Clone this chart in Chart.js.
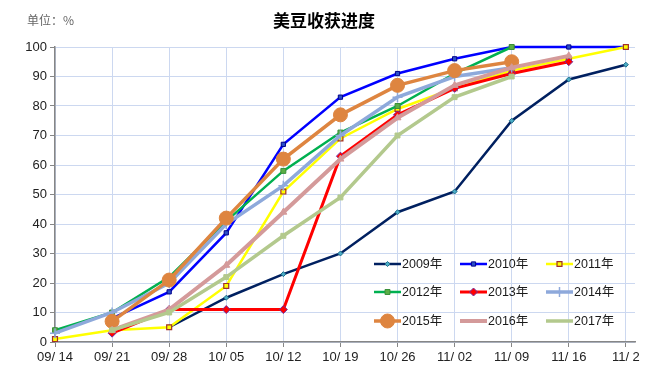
<!DOCTYPE html>
<html>
<head>
<meta charset="utf-8">
<script src="https://cdn.jsdelivr.net/npm/chart.js@4.4.0/dist/chart.umd.min.js"></script>
<style>
    html, body { margin: 0; padding: 0; background: #fff; overflow: hidden; }
    #wrap { position: relative; width: 649px; height: 390px; }
</style>
</head>
<body>
<div id="wrap"><canvas id="harvestChart" width="649" height="390"></canvas></div>
<script>
// Semanas (eje X) y años (series)
const weeks = ['09/ 14', '09/ 21', '09/ 28', '10/ 05', '10/ 12', '10/ 19', '10/ 26', '11/ 02', '11/ 09', '11/ 16', '11/ 2'];
const years = ['2009年', '2010年', '2011年', '2012年', '2013年', '2014年', '2015年', '2016年', '2017年'];
const yTicks = [0, 10, 20, 30, 40, 50, 60, 70, 80, 90, 100];

// Progreso de cosecha (%) por semana
const s2009 = [null, null, 5, 15, 23, 30, 44, 51, 75, 89, 94];
const s2010 = [null, 8, 17, 37, 67, 83, 91, 96, 100, 100, 100];
const s2011 = [1, 4, 5, 19, 51, 69, 79, 86, 92, 96, 100];
const s2012 = [4, 10, 22, 41, 58, 71, 80, 91, 100, null, null];
const s2013 = [null, 3, 11, 11, 11, 63, 77, 86, 91, 95, null];
const s2014 = [3, 10, 20, 40, 53, 70, 83, 90, 93, null, null];
const s2015 = [null, 7, 21, 42, 62, 77, 87, 92, 95, null, null];
const s2016 = [null, 4, 11, 26, 44, 62, 76, 87, 93, 97, null];
const s2017 = [null, 4, 10, 22, 36, 49, 70, 83, 90, null, null];

document.addEventListener('DOMContentLoaded', function () {
    initHarvestChart();
});

function initHarvestChart() {
    const canvas = document.getElementById('harvestChart');
    const ctx = canvas.getContext('2d');

    const seriesData = [s2009, s2010, s2011, s2012, s2013, s2014, s2015, s2016, s2017];

    // Estilos de cada serie (línea + marcador)
    const styles = [
        { color: '#002060', width: 2.5, point: 'rectRot', radius: 2.5, fill: '#4BACC6', border: '#1F6F8B', bw: 1 },
        { color: '#0000FF', width: 2.5, point: 'rect', radius: 3, fill: '#2B4FC8', border: '#00008B', bw: 1 },
        { color: '#FFFF00', width: 2.5, point: 'rect', radius: 3.5, fill: '#FFFF00', border: '#A0302A', bw: 1.2 },
        { color: '#00B050', width: 2.5, point: 'rect', radius: 3.5, fill: '#5AAE46', border: '#3A8F3A', bw: 1 },
        { color: '#FF0000', width: 3, point: 'rectRot', radius: 4, fill: '#FF0000', border: '#7030A0', bw: 1 },
        { color: '#8EA9DB', width: 3.5, point: 'cross', radius: 5, fill: '#8EA9DB', border: '#8EA9DB', bw: 1.5 },
        { color: '#DE8540', width: 3.5, point: 'circle', radius: 7, fill: '#DE8540', border: '#DE8540', bw: 1 },
        { color: '#D49A9A', width: 4, point: 'triangle', radius: 4, fill: '#D49A9A', border: '#D49A9A', bw: 1 },
        { color: '#B3C98D', width: 3.5, point: 'rect', radius: 3.5, fill: '#B3C98D', border: '#B3C98D', bw: 1 }
    ];

    const datasets = years.map((name, i) => ({
        label: name,
        data: seriesData[i].map((v, k) => ({ x: k, y: v })),
        borderColor: styles[i].color,
        backgroundColor: styles[i].fill,
        borderWidth: styles[i].width,
        pointStyle: styles[i].point,
        pointRadius: styles[i].radius,
        pointBackgroundColor: styles[i].fill,
        pointBorderColor: styles[i].border,
        pointBorderWidth: styles[i].bw,
        tension: 0,
        clip: 10,
        order: years.length - i // las series posteriores quedan encima
    }));

    // Título y unidad
    const titlePlugin = {
        id: 'titles',
        afterDraw(chart) {
            const c = chart.ctx;
            c.save();
            c.textBaseline = 'middle';
            c.fillStyle = '#000';
            c.font = 'bold 17px "Noto Sans CJK SC"';
            c.textAlign = 'center';
            c.fillText('美豆收获进度', 324, 21);
            c.fillStyle = '#666';
            c.font = '12px "Noto Sans CJK SC"';
            c.textAlign = 'left';
            c.fillText('单位：%', 27, 20);
            c.restore();
        }
    };

    // Leyenda dentro del área del gráfico (3 columnas)
    const legendPlugin = {
        id: 'insideLegend',
        afterDraw(chart) {
            const c = chart.ctx;
            const colX = [374, 460, 546];
            const rowY = [264, 292, 321];
            c.save();
            years.forEach((name, i) => {
                const x = colX[i % 3];
                const y = rowY[Math.floor(i / 3)];
                const st = styles[i];
                c.strokeStyle = st.color;
                c.lineWidth = st.width;
                c.beginPath();
                c.moveTo(x, y);
                c.lineTo(x + 27, y);
                c.stroke();
                if (i < 7) {
                    c.fillStyle = st.fill;
                    c.strokeStyle = st.border;
                    c.lineWidth = st.bw;
                    Chart.helpers.drawPoint(c, {
                        pointStyle: st.point,
                        radius: st.radius,
                        rotation: 0,
                        borderWidth: st.bw
                    }, x + 13.5, y);
                }
                c.fillStyle = '#1a1a1a';
                c.font = '12.5px "Liberation Sans", Arial, "Noto Sans CJK SC"';
                c.textAlign = 'left';
                c.textBaseline = 'middle';
                c.fillText(name, x + 28, y + 1);
            });
            c.restore();
        }
    };

    new Chart(ctx, {
        type: 'line',
        data: { datasets: datasets },
        options: {
            responsive: false,
            animation: false,
            layout: { padding: { top: 47, right: 14, left: 0, bottom: 0 } },
            scales: {
                x: {
                    type: 'linear',
                    min: 0,
                    max: 10.16,
                    afterBuildTicks: (scale) => {
                        scale.ticks = weeks.map((w, k) => ({ value: k }));
                    },
                    afterFit: (scale) => { scale.height = 48; },
                    ticks: {
                        autoSkip: false,
                        maxRotation: 0,
                        padding: 3,
                        color: '#222',
                        font: { family: '"Liberation Sans", Arial', size: 13 },
                        callback: (value) => weeks[value] ?? ''
                    },
                    grid: { color: '#CCD8F0', tickColor: '#868686', tickLength: 5, lineWidth: 1 },
                    border: { color: '#868686', width: 1.5 }
                },
                y: {
                    min: 0,
                    max: 100,
                    afterBuildTicks: (scale) => {
                        scale.ticks = yTicks.map(v => ({ value: v }));
                    },
                    afterFit: (scale) => { scale.width = 55; },
                    ticks: {
                        padding: 3,
                        color: '#222',
                        font: { family: '"Liberation Sans", Arial', size: 13 }
                    },
                    grid: { color: '#CCD8F0', tickColor: '#868686', tickLength: 5, lineWidth: 1 },
                    border: { color: '#868686', width: 1.5 }
                }
            },
            plugins: {
                legend: { display: false },
                title: { display: false },
                tooltip: { enabled: false }
            }
        },
        plugins: [titlePlugin, legendPlugin]
    });
}
</script>
</body>
</html>
